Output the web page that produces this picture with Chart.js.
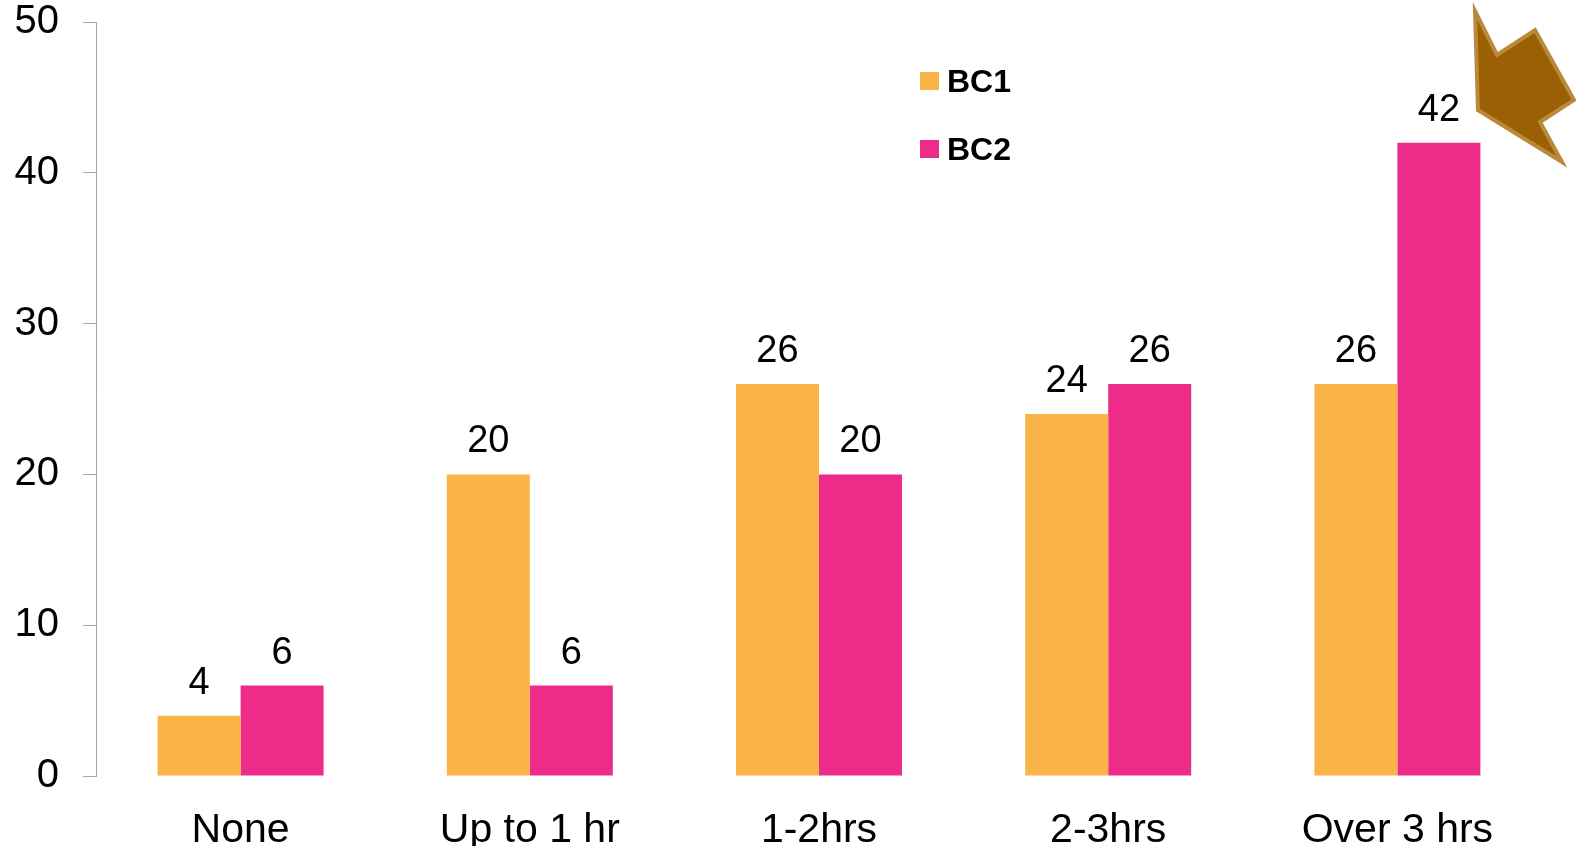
<!DOCTYPE html>
<html>
<head>
<meta charset="utf-8">
<script src="https://cdn.jsdelivr.net/npm/chart.js@4"></script>
<style>
  html, body { margin: 0; padding: 0; background: #fff; }
  #wrap { width: 1576px; height: 850px; }
</style>
</head>
<body>
<div id="wrap"><canvas id="myChart" width="1576" height="850"></canvas></div>
<script>
const categories = ['None', 'Up to 1 hr', '1-2hrs', '2-3hrs', 'Over 3 hrs'];
const bc1 = [4, 20, 26, 24, 26];
const bc2 = [6, 6, 20, 26, 42];
const seriesNames = ['BC1', 'BC2'];
const seriesColors = ['#FBB447', '#ED2B88'];
const yMax = 50;
const yStep = 10;

const FONT = '"Liberation Sans", Arial, sans-serif';

// values above each bar
const barValues = {
  id: 'barValues',
  afterDatasetsDraw(chart) {
    const ctx = chart.ctx;
    ctx.save();
    ctx.font = '38px ' + FONT;
    ctx.fillStyle = '#000';
    ctx.textAlign = 'center';
    ctx.textBaseline = 'alphabetic';
    chart.data.datasets.forEach((ds, i) => {
      chart.getDatasetMeta(i).data.forEach((bar, j) => {
        ctx.fillText(ds.data[j], bar.x, bar.y - 22);
      });
    });
    ctx.restore();
  }
};

// legend stacked inside the plot
const innerLegend = {
  id: 'innerLegend',
  afterDraw(chart) {
    const ctx = chart.ctx;
    const x0 = 920, y0 = 72;
    ctx.save();
    ctx.font = 'bold 32px ' + FONT;
    ctx.textAlign = 'left';
    ctx.textBaseline = 'alphabetic';
    chart.data.datasets.forEach((ds, i) => {
      const y = y0 + i * 68;
      ctx.fillStyle = ds.backgroundColor;
      ctx.fillRect(x0, y, 19, 18);
      ctx.fillStyle = '#000';
      ctx.fillText(ds.label, x0 + 27, y + 20);
    });
    ctx.restore();
  }
};

// brown arrow in the corner
const cornerArrow = {
  id: 'cornerArrow',
  afterDraw(chart) {
    const ctx = chart.ctx;
    const pts = [[1475, 11], [1497, 55], [1535, 30], [1574, 100], [1540, 122], [1562, 162], [1478, 110]];
    ctx.save();
    ctx.beginPath();
    pts.forEach((p, i) => i ? ctx.lineTo(p[0], p[1]) : ctx.moveTo(p[0], p[1]));
    ctx.closePath();
    ctx.fillStyle = '#9A6003';
    ctx.fill();
    ctx.lineWidth = 4;
    ctx.lineJoin = 'miter';
    ctx.strokeStyle = '#BA8A3A';
    ctx.stroke();
    ctx.restore();
  }
};

new Chart('myChart', {
  type: 'bar',
  data: {
    labels: categories,
    datasets: [
      { label: seriesNames[0], data: bc1, backgroundColor: seriesColors[0] },
      { label: seriesNames[1], data: bc2, backgroundColor: seriesColors[1] }
    ]
  },
  options: {
    responsive: false,
    animation: false,
    events: [],
    layout: { padding: { top: 0, right: 34, bottom: 4, left: 0 } },
    datasets: {
      bar: { categoryPercentage: 0.574, barPercentage: 1.0, borderWidth: 0 }
    },
    plugins: {
      legend: { display: false },
      tooltip: { enabled: false }
    },
    scales: {
      x: {
        afterFit(scale) { scale.height = 70; },
        grid: { display: false },
        border: { display: false },
        ticks: {
          color: '#000',
          font: { family: FONT, size: 41 },
          padding: 22,
          maxRotation: 0,
          autoSkip: false
        }
      },
      y: {
        min: 0,
        max: yMax,
        afterFit(scale) {
          scale.width = 96;
          scale.paddingTop = 22;
          scale.paddingBottom = 0;
        },
        grid: { drawOnChartArea: false, tickLength: 13, color: '#A6A6A6', lineWidth: 1 },
        border: { display: true, color: '#A6A6A6', width: 1 },
        ticks: {
          stepSize: yStep,
          color: '#000',
          font: { family: FONT, size: 40 },
          padding: 24
        }
      }
    }
  },
  plugins: [barValues, innerLegend, cornerArrow]
});
</script>
</body>
</html>
